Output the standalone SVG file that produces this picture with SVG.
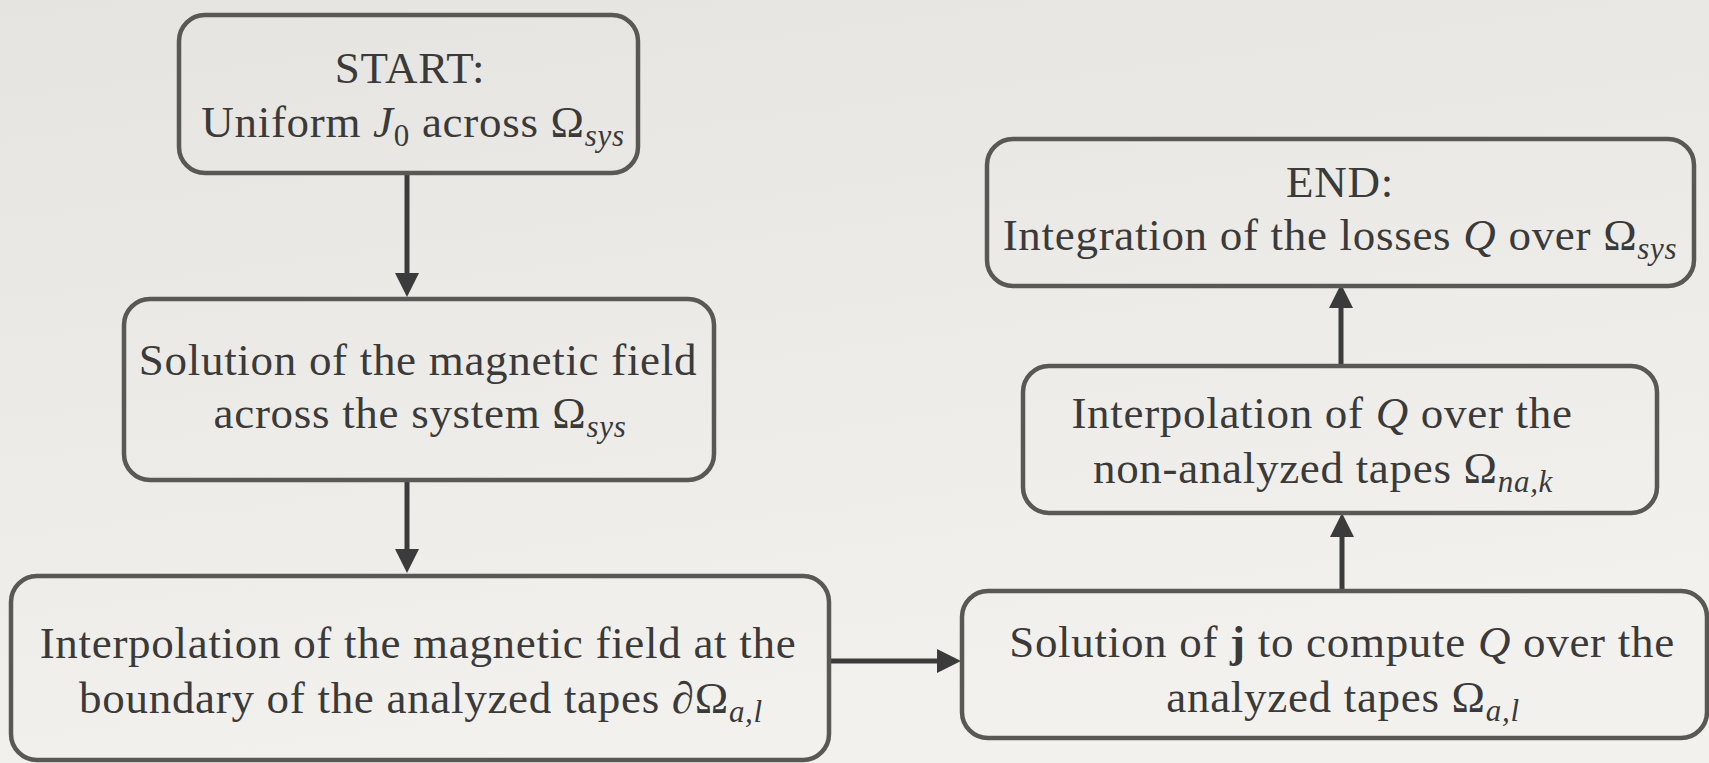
<svg xmlns="http://www.w3.org/2000/svg" width="1709" height="763" viewBox="0 0 1709 763">
<defs>
<linearGradient id="bg" x1="0" y1="0" x2="0.3" y2="1">
<stop offset="0" stop-color="#e6e4e0"/>
<stop offset="1" stop-color="#f3f1ed"/>
</linearGradient>
<marker id="ah" markerUnits="userSpaceOnUse" markerWidth="25" markerHeight="25" refX="0" refY="12" orient="auto" viewBox="0 0 25 24">
<path d="M0,0 L24,12 L0,24 Z" fill="#3b3b3b"/>
</marker>
<style>
.box{fill:none;stroke:#5a5854;stroke-width:4.5}
.t{font-family:"Liberation Serif","Times New Roman",serif;font-size:45px;letter-spacing:0.7px;fill:#3a3a3a;text-anchor:middle}
.i{font-style:italic}
.s{font-style:italic;font-size:31px}
.b{font-weight:bold}
.c{stroke:#3b3b3b;stroke-width:5;fill:none;marker-end:url(#ah)}
</style>
</defs>
<rect width="1709" height="763" fill="url(#bg)"/>
<g id="connectors">
<line class="c" x1="407" y1="174" x2="407" y2="273"/>
<line class="c" x1="407" y1="481" x2="407" y2="549"/>
<line class="c" x1="830" y1="661" x2="937" y2="661"/>
<line class="c" x1="1342" y1="590" x2="1342" y2="537"/>
<line class="c" x1="1341" y1="365" x2="1341" y2="308"/>
</g>
<g id="start">
<rect class="box" x="179" y="15" width="459" height="158" rx="26"/>
<text class="t" x="410" y="83">START:</text>
<text class="t" x="413" y="137">Uniform <tspan class="i">J</tspan><tspan font-size="31" dy="9">0</tspan><tspan dy="-9"> across Ω</tspan><tspan class="s" dy="9">sys</tspan></text>
</g>
<g id="solve-field">
<rect class="box" x="124" y="299" width="590" height="181" rx="26"/>
<text class="t" x="418" y="375">Solution of the magnetic field</text>
<text class="t" x="420" y="428">across the system Ω<tspan class="s" dy="9">sys</tspan></text>
</g>
<g id="interp-field">
<rect class="box" x="11" y="576" width="818" height="184" rx="26"/>
<text class="t" x="418" y="658">Interpolation of the magnetic field at the</text>
<text class="t" x="421" y="713">boundary of the analyzed tapes <tspan class="i">∂</tspan>Ω<tspan class="s" dy="9">a,l</tspan></text>
</g>
<g id="solve-j">
<rect class="box" x="962" y="591" width="745" height="147" rx="26"/>
<text class="t" x="1342" y="657">Solution of <tspan class="b">j</tspan> to compute <tspan class="i">Q</tspan> over the</text>
<text class="t" x="1343" y="712">analyzed tapes Ω<tspan class="s" dy="9">a,l</tspan></text>
</g>
<g id="interp-q">
<rect class="box" x="1023" y="366" width="634" height="147" rx="26"/>
<text class="t" x="1322" y="428">Interpolation of <tspan class="i">Q</tspan> over the</text>
<text class="t" x="1323" y="483">non-analyzed tapes Ω<tspan class="s" dy="9">na,k</tspan></text>
</g>
<g id="end">
<rect class="box" x="987" y="139" width="707" height="147" rx="26"/>
<text class="t" x="1340" y="197">END:</text>
<text class="t" x="1340" y="250">Integration of the losses <tspan class="i">Q</tspan> over Ω<tspan class="s" dy="9">sys</tspan></text>
</g>
</svg>
